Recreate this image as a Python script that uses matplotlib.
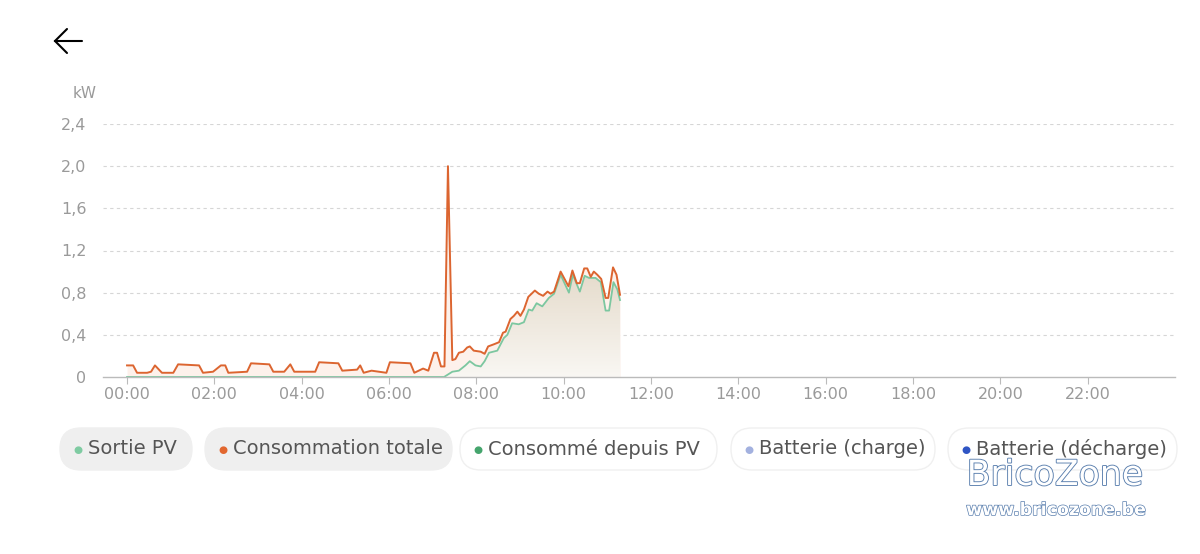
import numpy as np
import matplotlib
matplotlib.use('Agg')
import matplotlib.pyplot as plt
from matplotlib.patches import FancyBboxPatch
import matplotlib.patheffects as pe

# Consommation totale (heure, kW)
conso_h = [0.00, 0.14, 0.23, 0.46, 0.55, 0.64, 0.80, 1.06, 1.17, 1.65, 1.74, 1.97, 2.15, 2.25,
           2.32, 2.75, 2.84, 3.26, 3.35, 3.60, 3.74, 3.83, 4.31, 4.40, 4.84, 4.93, 5.27, 5.34,
           5.42, 5.60, 5.94, 6.02, 6.49, 6.58, 6.78, 6.90, 7.03, 7.10, 7.19, 7.27, 7.35, 7.45,
           7.52, 7.60, 7.70, 7.79, 7.85, 7.94, 8.10, 8.19, 8.27, 8.40, 8.52, 8.61, 8.67, 8.78,
           8.86, 8.94, 9.01, 9.09, 9.19, 9.24, 9.34, 9.43, 9.53, 9.63, 9.70, 9.78, 9.93, 10.11,
           10.20, 10.30, 10.37, 10.47, 10.54, 10.62, 10.69, 10.77, 10.86, 10.96, 11.02, 11.13,
           11.21, 11.29]
conso_kw = [0.11, 0.11, 0.04, 0.04, 0.05, 0.11, 0.04, 0.04, 0.12, 0.11, 0.04, 0.05, 0.11, 0.11,
            0.04, 0.05, 0.13, 0.12, 0.05, 0.05, 0.12, 0.05, 0.05, 0.14, 0.13, 0.06, 0.07, 0.11,
            0.04, 0.06, 0.04, 0.14, 0.13, 0.04, 0.08, 0.06, 0.23, 0.23, 0.10, 0.10, 2.00, 0.16,
            0.17, 0.23, 0.24, 0.28, 0.29, 0.25, 0.24, 0.22, 0.29, 0.31, 0.33, 0.42, 0.43, 0.55,
            0.58, 0.62, 0.58, 0.64, 0.76, 0.78, 0.82, 0.79, 0.77, 0.81, 0.79, 0.81, 1.00, 0.86,
            1.01, 0.89, 0.89, 1.03, 1.03, 0.95, 1.00, 0.97, 0.93, 0.75, 0.75, 1.04, 0.97, 0.78]

# Sortie PV (heure, kW)
pv_h = [0.00, 7.26, 7.45, 7.60, 7.75, 7.85, 7.98, 8.10, 8.19, 8.29, 8.48, 8.63, 8.71, 8.82,
        8.97, 9.09, 9.20, 9.28, 9.38, 9.51, 9.66, 9.78, 9.93, 10.12, 10.21, 10.37, 10.48,
        10.58, 10.73, 10.85, 10.96, 11.04, 11.14, 11.23, 11.29]
pv_kw = [0.00, 0.00, 0.05, 0.06, 0.11, 0.15, 0.11, 0.10, 0.15, 0.23, 0.25, 0.37, 0.40, 0.51,
         0.50, 0.52, 0.64, 0.63, 0.70, 0.67, 0.75, 0.79, 0.97, 0.80, 0.97, 0.81, 0.96,
         0.94, 0.94, 0.90, 0.63, 0.63, 0.90, 0.83, 0.73]

xticks = list(range(0, 24, 2))
xlabels = [f'{h:02d}:00' for h in xticks]
yticks = [0, 0.4, 0.8, 1.2, 1.6, 2.0, 2.4]
ylabels = ['0', '0,4', '0,8', '1,2', '1,6', '2,0', '2,4']

legend_names = ['Sortie PV', 'Consommation totale', 'Consommé depuis PV',
                'Batterie (charge)', 'Batterie (décharge)']
legend_colors = ['#7fcba2', '#e2672f', '#45a56d', '#a3b1df', '#2f55c4']

orange = '#dc6530'
green = '#7cc7a0'
grey_txt = '#9a9a9a'

fig = plt.figure(figsize=(12, 5.54), dpi=100)
ax = fig.add_axes([103 / 1200, 177 / 554, 1072 / 1200, 253 / 554])

# zone consommation
ax.fill_between(conso_h, conso_kw, 0, color='#fdf1eb', lw=0, zorder=1)

# zone PV avec dégradé
poly = ax.fill_between(pv_h, pv_kw, 0, color='none', lw=0, zorder=2)
grad = np.linspace(1, 0, 256).reshape(-1, 1)
cmap = matplotlib.colors.LinearSegmentedColormap.from_list('pvgrad', ['#f9f7f3', '#e5dbcb'])
im = ax.imshow(grad, extent=(0, 11.3, 0, 1.0), origin='upper', cmap=cmap, aspect='auto',
               zorder=2, vmin=0, vmax=1)
im.set_clip_path(poly.get_paths()[0], transform=ax.transData)

ax.plot(pv_h, pv_kw, color=green, lw=1.3, zorder=4, solid_joinstyle='round')
ax.plot(conso_h, conso_kw, color=orange, lw=1.4, zorder=5, solid_joinstyle='round')

ax.set_xlim(-0.55, 24.0)
ax.set_ylim(0, 2.4)
ax.set_xticks(xticks)
ax.set_xticklabels(xlabels, color=grey_txt, fontsize=11.5)
ax.set_yticks(yticks)
ax.set_yticklabels(ylabels, color=grey_txt, fontsize=11.5)
ax.tick_params(axis='y', length=0, pad=12)
ax.tick_params(axis='x', length=5, width=0.8, color='#bbbbbb', pad=2)
for v in yticks[1:]:
    ax.axhline(v, color='#d6d6d6', lw=0.8, ls=(0, (3, 3)), zorder=0)
for s in ['top', 'right', 'left']:
    ax.spines[s].set_visible(False)
ax.spines['bottom'].set_color('#bbbbbb')
ax.spines['bottom'].set_linewidth(1.0)
ax.spines['bottom'].set_zorder(6)

# calque de décor en pixels
deco = fig.add_axes([0, 0, 1, 1], zorder=-1)
deco.set_xlim(0, 1200)
deco.set_ylim(554, 0)
deco.axis('off')
deco.patch.set_visible(False)

deco.text(85, 94, 'kW', color=grey_txt, fontsize=11, ha='center', va='center')

# flèche retour
deco.plot([55, 82], [41, 41], color='black', lw=1.5, solid_capstyle='round')
deco.plot([67, 55, 67], [29, 41, 53], color='black', lw=1.5, solid_capstyle='round',
          solid_joinstyle='miter')

# légende en pastilles
pills = [(60, 192), (205, 452), (460, 717), (731, 935), (948, 1177)]
r = 21
for i, (name, col) in enumerate(zip(legend_names, legend_colors)):
    x0, x1 = pills[i]
    filled = i < 2
    box = FancyBboxPatch((x0 + r, 428 + r), x1 - x0 - 2 * r, 0,
                         boxstyle=f'round,pad={r}',
                         facecolor='#efefef' if filled else 'white',
                         edgecolor='#efefef' if filled else '#f0f0f0', lw=1.0)
    deco.add_patch(box)
    deco.text(x0 + 18, 450, '●', color=col, fontsize=7.5, ha='center', va='center')
    deco.text(x0 + 28, 449, name, color='#555555', fontsize=14, ha='left', va='center')

# filigrane
wm = [pe.withStroke(linewidth=1.3, foreground='#5a7fae')]
fig.text(1055 / 1200, 1 - 475 / 554, 'BricoZone', color='white', fontsize=25,
         ha='center', va='center', path_effects=wm)
fig.text(1056 / 1200, 1 - 510 / 554, 'www.bricozone.be', color='white', fontsize=12.5,
         ha='center', va='center', fontweight='bold',
         path_effects=[pe.withStroke(linewidth=1.0, foreground='#5a7fae')])

fig.savefig('out.png', dpi=100, facecolor='white')
